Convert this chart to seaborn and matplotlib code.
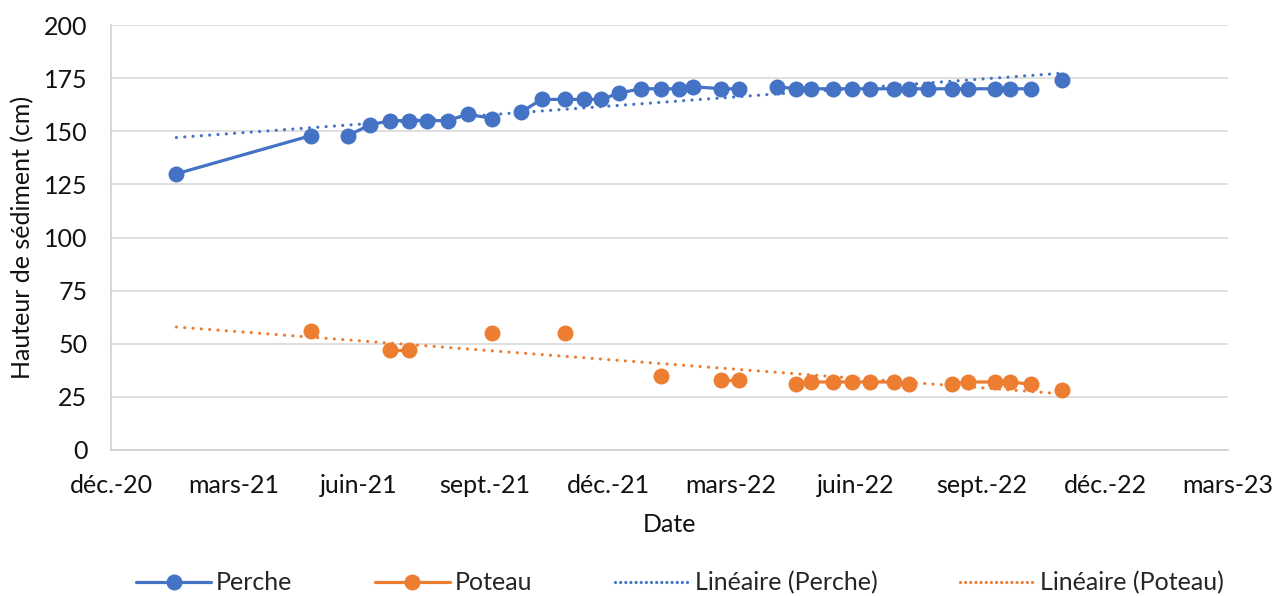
"""
Hauteur de sédiment : Perche et Poteau, avec tendances linéaires.
"""

import matplotlib
matplotlib.use("Agg")
import matplotlib.dates as mdates
import matplotlib.pyplot as plt
from matplotlib.lines import Line2D
import numpy as np
import pandas as pd
import seaborn as sns


# None = ligne vide dans la feuille (coupe les courbes)
DATES = [
    "2021-01-18", "2021-04-27", None, "2021-05-24", "2021-06-09",
    "2021-06-24", "2021-07-08", "2021-07-21", "2021-08-05", "2021-08-20",
    "2021-09-07", None, "2021-09-28", "2021-10-13", "2021-10-30",
    "2021-11-13", "2021-11-26", "2021-12-09", "2021-12-25", "2022-01-09",
    "2022-01-22", "2022-02-01", "2022-02-22", "2022-03-07", None,
    "2022-04-04", "2022-04-18", "2022-04-29", "2022-05-15", "2022-05-29",
    "2022-06-11", "2022-06-29", "2022-07-10", "2022-07-24", "2022-08-10",
    "2022-08-22", "2022-09-11", "2022-09-22", "2022-10-07", None,
    "2022-10-30",
]

PERCHE = [
    130, 148, None, 148, 153,
    155, 155, 155, 155, 158,
    156, None, 159, 165, 165,
    165, 165, 168, 170, 170,
    170, 171, 170, 170, None,
    171, 170, 170, 170, 170,
    170, 170, 170, 170, 170,
    170, 170, 170, 170, None,
    174,
]

POTEAU = [
    None, 56, None, None, None,
    47, 47, None, None, None,
    55, None, None, None, 55,
    None, None, None, None, 35,
    None, None, 33, 33, None,
    None, 31, 32, 32, 32,
    32, 32, 31, None, 31,
    32, 32, 32, 31, None,
    28,
]

TICK_DATES = [
    "2020-12-01", "2021-03-01", "2021-06-01", "2021-09-01", "2021-12-01",
    "2022-03-01", "2022-06-01", "2022-09-01", "2022-12-01", "2023-03-01",
]
TICK_LABELS = [
    "déc.-20", "mars-21", "juin-21", "sept.-21", "déc.-21",
    "mars-22", "juin-22", "sept.-22", "déc.-22", "mars-23",
]

BLUE = "#4472C4"
ORANGE = "#ED7D31"
FONT_SIZE = 18


def build_dataframe() -> pd.DataFrame:
    df = pd.DataFrame({
        "Date": pd.to_datetime(DATES),
        "Perche": pd.Series(PERCHE, dtype="float"),
        "Poteau": pd.Series(POTEAU, dtype="float"),
    })
    return df


def plot_series(ax, df, column, color):
    # a blank cell breaks the line, as in Excel
    data = df.copy()
    data["seg"] = data[column].isna().cumsum()
    data = data.dropna(subset=[column])
    sns.lineplot(
        data=data, x="Date", y=column, units="seg", estimator=None,
        sort=False, color=color, marker="o", markersize=11.5,
        markeredgewidth=0, linewidth=2.3, legend=False, ax=ax, zorder=3,
    )


def plot_trend(ax, df, column, color):
    data = df.dropna(subset=["Date", column])
    x_num = mdates.date2num(data["Date"])
    coef = np.polyfit(x_num, data[column], 1)
    ends = [df["Date"].min(), df["Date"].max()]
    trend = pd.DataFrame({
        "Date": ends,
        "y": np.polyval(coef, mdates.date2num(ends)),
    })
    sns.lineplot(
        data=trend, x="Date", y="y", color=color, linewidth=2.3,
        linestyle=(0, (0.01, 2.6)), dash_capstyle="round",
        legend=False, ax=ax, zorder=4,
    )


def main() -> None:
    sns.set_theme(style="white")
    plt.rcParams["font.family"] = ["Lato", "DejaVu Sans"]

    df = build_dataframe()

    fig = plt.figure(figsize=(12.76, 5.96), dpi=100)
    ax = fig.add_axes([0.087, 0.245, 0.8755, 0.713])

    plot_series(ax, df, "Perche", BLUE)
    plot_series(ax, df, "Poteau", ORANGE)
    plot_trend(ax, df, "Perche", BLUE)
    plot_trend(ax, df, "Poteau", ORANGE)

    tick_dates = pd.to_datetime(TICK_DATES)
    ax.set_xlim(tick_dates[0], tick_dates[-1])
    ax.set_xticks(tick_dates)
    ax.set_xticklabels(TICK_LABELS)
    ax.set_ylim(0, 200)
    ax.set_yticks(range(0, 201, 25))

    ax.grid(axis="y", color="#D9D9D9", linewidth=1.2)
    ax.set_axisbelow(True)
    for side in ["top", "right"]:
        ax.spines[side].set_visible(False)
    for side in ["left", "bottom"]:
        ax.spines[side].set_color("#D0D0D0")
        ax.spines[side].set_linewidth(1.2)

    ax.tick_params(axis="both", length=0, pad=17, labelsize=FONT_SIZE,
                   colors="#111111")
    ax.set_xlabel("Date", fontsize=FONT_SIZE, labelpad=12, color="#111111")
    ax.set_ylabel("Hauteur de sédiment (cm)", fontsize=FONT_SIZE,
                  labelpad=7, color="#111111")

    handles = [
        Line2D([], [], color=BLUE, linewidth=2.3, marker="o",
               markersize=11.5, markeredgewidth=0),
        Line2D([], [], color=ORANGE, linewidth=2.3, marker="o",
               markersize=11.5, markeredgewidth=0),
        Line2D([], [], color=BLUE, linewidth=2.3,
               linestyle=(0, (0.01, 1.6)), dash_capstyle="round"),
        Line2D([], [], color=ORANGE, linewidth=2.3,
               linestyle=(0, (0.01, 1.6)), dash_capstyle="round"),
    ]
    labels = ["Perche", "Poteau", "Linéaire (Perche)", "Linéaire (Poteau)"]
    fig.legend(
        handles, labels, loc="lower center", bbox_to_anchor=(0.533, -0.035),
        ncol=4, frameon=False, fontsize=FONT_SIZE, handlelength=3.0,
        handletextpad=0.2, columnspacing=3.3,
    )

    fig.savefig("out.png", dpi=100)


if __name__ == "__main__":
    main()
